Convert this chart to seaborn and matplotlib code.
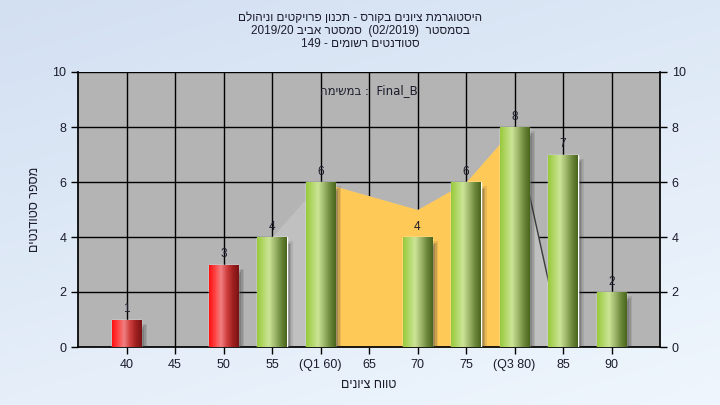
import numpy as np
import pandas as pd
import matplotlib
matplotlib.use("Agg")
import matplotlib.pyplot as plt
from matplotlib.colors import LinearSegmentedColormap
from matplotlib.patches import Rectangle
import seaborn as sns

# ── data ─────────────────────────────────────────────────────────────────
grade_labels = ["40", "45", "50", "55", "(Q1 60)", "65", "70", "75", "(Q3 80)", "85", "90"]
counts = [1, 0, 3, 4, 6, 0, 4, 6, 8, 7, 2]
passed = [False, False, False, True, True, True, True, True, True, True, True]

# background distribution curve (category index -> value)
curve_idx = [3, 4, 5, 6, 7, 8, 9, 10]
curve_val = [4, 6, 5.5, 5, 6, 8, 0, 0]
q1_idx, q3_idx = 4, 8


def heb(s):
    # matplotlib has no bidi: write Hebrew in visual order
    return s[::-1]


title_1 = heb("היסטוגרמת ציונים בקורס - תכנון פרויקטים וניהולם")
title_2 = "2019/20 " + heb("סמסטר אביב") + "  (02/2019)  " + heb("בסמסטר")
title_3 = "149 - " + heb("סטודנטים רשומים")
legend_txt = heb("במשימה") + " :  Final_B"
x_title = heb("טווח ציונים")
y_title = heb("מספר סטודנטים")

sns.set_theme(style="white")
plt.rcParams["font.family"] = ["Liberation Sans", "DejaVu Sans"]
TXT = "#1c1c2c"

fig = plt.figure(figsize=(7.2, 4.05), dpi=100)

# light blue gradient background
bg = fig.add_axes([0, 0, 1, 1], zorder=-10)
yy, xx = np.mgrid[0:1:200j, 0:1:200j]
grad = 0.65 * yy + 0.35 * xx
bg_cmap = LinearSegmentedColormap.from_list("bg", ["#d3e0f2", "#eff6fd"])
bg.imshow(grad, cmap=bg_cmap, aspect="auto", extent=[0, 1, 0, 1], origin="upper")
bg.axis("off")

ax = fig.add_axes([78 / 720, 1 - 347 / 405, 582 / 720, 275 / 405])
ax.set_facecolor("#b4b4b4")

df = pd.DataFrame({"grade": grade_labels, "count": counts,
                   "status": ["pass" if p else "fail" for p in passed]})
sns.barplot(data=df, x="grade", y="count", hue="status", order=grade_labels,
            palette={"pass": "#9fcf45", "fail": "#ff2020"}, dodge=False,
            width=0.6, legend=False, ax=ax, zorder=4)

# grid
for yv in range(2, 11, 2):
    ax.axhline(yv, color="black", lw=1, zorder=1)
for xv in range(len(grade_labels)):
    ax.axvline(xv, color="black", lw=1, zorder=1)

# distribution area (grey outside Q1..Q3, orange inside)
cx = np.array(curve_idx, dtype=float)
cy = np.array(curve_val, dtype=float)
ax.fill_between(cx, 0, cy, color="#c0c0c0", lw=0, zorder=2)
m = (cx >= q1_idx) & (cx <= q3_idx)
ax.fill_between(cx[m], 0, cy[m], color="#ffc957", lw=0, zorder=2.1)
m2 = cx >= q3_idx
ax.plot(cx[m2], cy[m2], color="#3a3a3a", lw=1, zorder=2.2)

# cylinder shading + shadow on each bar
green_cm = LinearSegmentedColormap.from_list(
    "g", ["#98c93c", "#b3d86a", "#cbe496", "#9fb86c", "#6e8a3c", "#4a661e"])
red_cm = LinearSegmentedColormap.from_list(
    "r", ["#ff1010", "#ff4545", "#f08080", "#d04040", "#a02020", "#7a1414"])
shade = np.linspace(0, 1, 64).reshape(1, -1)
for patch, ok in zip(ax.patches, passed):
    h = patch.get_height()
    if h <= 0:
        patch.set_visible(False)
        continue
    x0, w = patch.get_x(), patch.get_width()
    for k, a in enumerate([0.12, 0.16, 0.22, 0.3]):
        off = 0.04 + 0.03 * (3 - k)
        ax.add_patch(Rectangle((x0 + off, -0.25), w, h + 0.1 - 0.06 * k,
                               color="#383838", alpha=a, lw=0, zorder=3))
    img = ax.imshow(shade, cmap=green_cm if ok else red_cm, aspect="auto",
                    extent=[x0, x0 + w, 0, h], zorder=4.5, interpolation="bilinear")
    img.set_clip_path(patch)
    ax.text(x0 + w / 2, h + 0.15, f"{int(round(h))}", ha="center", va="bottom",
            fontsize=8.5, color=TXT, zorder=6)
ax.set_xlim(-1, 11)
ax.set_ylim(0, 10)
ax.set_yticks(range(0, 11, 2))

# axes styling
for s in ["top", "right"]:
    ax.spines[s].set_visible(False)
ax.spines["left"].set_color("black")
ax.spines["bottom"].set_color("black")
ax.tick_params(axis="both", direction="out", length=5, width=1, color="black",
               labelsize=9, labelcolor=TXT, left=True, bottom=True)
ax.set_xlabel(x_title, fontsize=9, color=TXT, labelpad=6)
ax.set_ylabel(y_title, fontsize=9, color=TXT, labelpad=8)

ax2 = ax.twinx()
ax2.set_ylim(0, 10)
ax2.set_yticks(range(0, 11, 2))
for s in ["top", "left", "bottom"]:
    ax2.spines[s].set_visible(False)
ax2.spines["right"].set_color("black")
ax2.tick_params(axis="y", direction="out", length=5, width=1, color="black",
                labelsize=9, labelcolor=TXT, right=True)
ax2.grid(False)

ax.text(0.5, 0.955, legend_txt, transform=ax.transAxes, ha="center",
        va="top", fontsize=8.5, color=TXT, zorder=7, family="DejaVu Sans")

fig.text(0.5, 1 - 18 / 405, title_1, ha="center", va="center", fontsize=8.5, color=TXT)
fig.text(0.5, 1 - 31 / 405, title_2, ha="center", va="center", fontsize=8.5, color=TXT)
fig.text(0.5, 1 - 44 / 405, title_3, ha="center", va="center", fontsize=8.5, color=TXT)

fig.savefig("out.png", dpi=100)
